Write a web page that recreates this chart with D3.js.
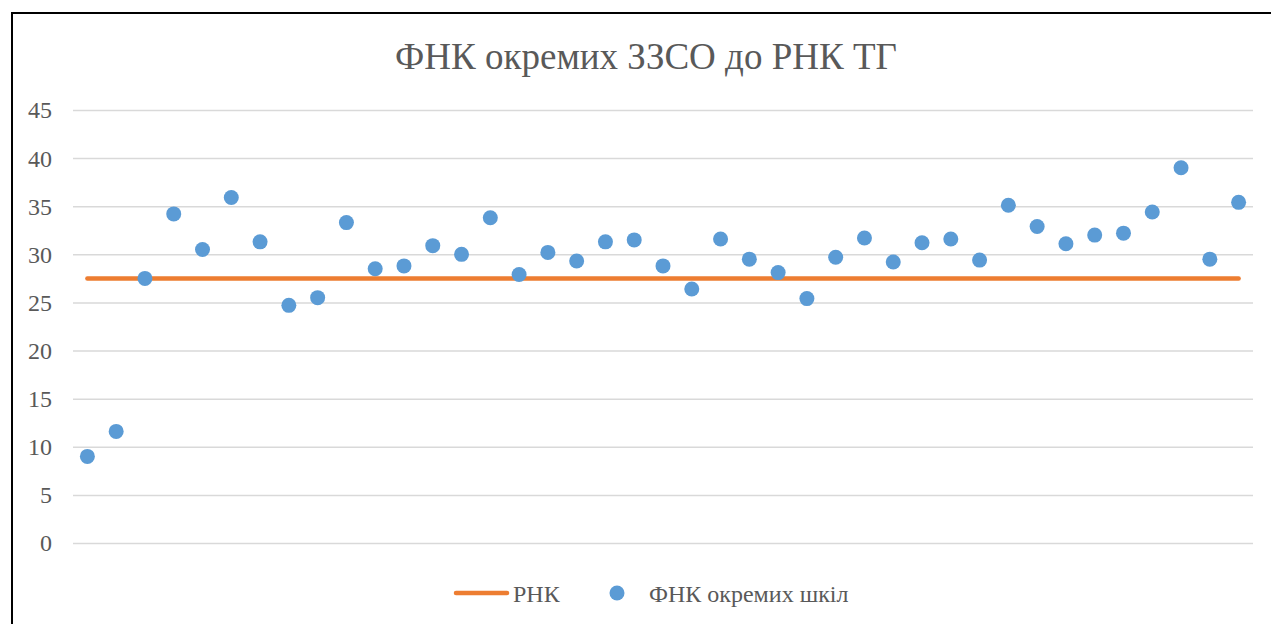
<!DOCTYPE html>
<html>
<head>
<meta charset="utf-8">
<script src="https://cdn.jsdelivr.net/npm/d3@7"></script>
<style>
    body { margin: 0; background: #fff; }
    svg { display: block; }
</style>
</head>
<body>
<div id="chart"></div>
<script>
// chart values
const title = "ФНК окремих ЗЗСО до РНК ТГ";
const lineName = "РНК";
const dotName = "ФНК окремих шкіл";
const rnk = 27.5;
const schools = [
    9.0, 11.6, 27.5, 34.2, 30.5, 35.9, 31.3, 24.7, 25.5, 33.3,
    28.5, 28.8, 30.9, 30.0, 33.8, 27.9, 30.2, 29.3, 31.3, 31.5,
    28.8, 26.4, 31.6, 29.5, 28.1, 25.4, 29.7, 31.7, 29.2, 31.2,
    31.6, 29.4, 35.1, 32.9, 31.1, 32.0, 32.2, 34.4, 39.0, 29.5,
    35.4
];
const yTicks = [0, 5, 10, 15, 20, 25, 30, 35, 40, 45];

const options = {
    width: 1271,
    height: 624,
    plotLeft: 73,
    plotRight: 1253,
    plotTop: 110,
    plotBottom: 543,
    textColor: "#595959",
    gridColor: "#d9d9d9",
    lineColor: "#ED7D31",
    dotColor: "#5B9BD5",
    font: "Liberation Serif"
};

const svg = d3.select("#chart").append("svg")
    .attr("width", options.width)
    .attr("height", options.height);

// outer frame (right and bottom edges run off the page)
svg.append("rect")
    .attr("x", 12)
    .attr("y", 13)
    .attr("width", options.width + 10)
    .attr("height", options.height + 10)
    .attr("fill", "#fff")
    .attr("stroke", "#000")
    .attr("stroke-width", 2);

const x = d3.scalePoint()
    .domain(d3.range(schools.length))
    .range([options.plotLeft, options.plotRight])
    .padding(0.5);

const y = d3.scaleLinear()
    .domain([0, 45])
    .range([options.plotBottom, options.plotTop]);

svg.append("text")
    .attr("x", 646)
    .attr("y", 69)
    .attr("text-anchor", "middle")
    .attr("fill", options.textColor)
    .attr("font-family", options.font)
    .attr("font-size", 37)
    .text(title);

// gridlines + y labels
const yAxis = svg.append("g")
    .attr("transform", `translate(${options.plotLeft},0)`)
    .attr("font-family", options.font)
    .call(d3.axisLeft(y)
        .tickValues(yTicks)
        .tickSize(-(options.plotRight - options.plotLeft))
        .tickPadding(21));

yAxis.select(".domain").remove();
yAxis.selectAll(".tick line")
    .attr("stroke", options.gridColor)
    .attr("stroke-width", 1.5);
yAxis.selectAll(".tick text")
    .attr("fill", options.textColor)
    .attr("font-family", options.font)
    .attr("font-size", 24)
    .attr("dy", "0.33em");

// РНК line
const line = d3.line()
    .x((d, i) => x(i))
    .y(() => y(rnk));

svg.append("path")
    .datum(schools)
    .attr("d", line)
    .attr("fill", "none")
    .attr("stroke", options.lineColor)
    .attr("stroke-width", 4.5)
    .attr("stroke-linecap", "round");

svg.append("g")
    .selectAll(null)
    .data(schools)
    .join("circle")
    .attr("cx", (d, i) => x(i))
    .attr("cy", d => y(d))
    .attr("r", 7.5)
    .attr("fill", options.dotColor);

// legend
const legend = svg.append("g")
    .attr("font-family", options.font)
    .attr("font-size", 24)
    .attr("fill", options.textColor);

legend.append("line")
    .attr("x1", 456).attr("x2", 507)
    .attr("y1", 593).attr("y2", 593)
    .attr("stroke", options.lineColor)
    .attr("stroke-width", 4.5)
    .attr("stroke-linecap", "round");

legend.append("text")
    .attr("x", 513)
    .attr("y", 601.5)
    .text(lineName);

legend.append("circle")
    .attr("cx", 617)
    .attr("cy", 593)
    .attr("r", 7.5)
    .attr("fill", options.dotColor);

legend.append("text")
    .attr("x", 649)
    .attr("y", 601.5)
    .text(dotName);
</script>
</body>
</html>
